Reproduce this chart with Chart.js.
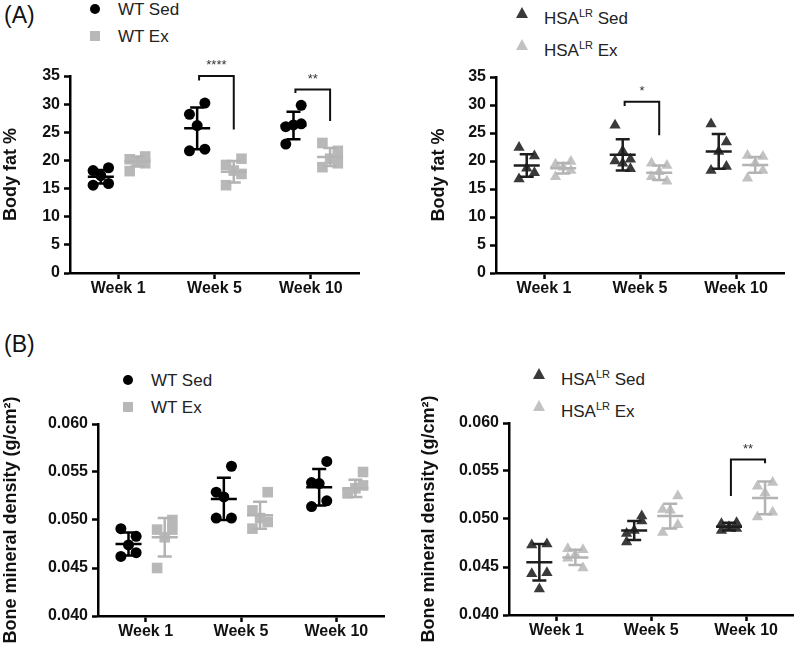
<!DOCTYPE html>
<html>
<head>
<meta charset="utf-8">
<script src="https://cdn.jsdelivr.net/npm/chart.js@4.4.1/dist/chart.umd.min.js"></script>
<style>
  body { margin: 0; background: #fff; font-family: 'Liberation Sans', Arial, sans-serif; }
  #wrap { position: relative; width: 800px; height: 650px; overflow: hidden; }
  canvas { position: absolute; }
  .tag { position: absolute; font-size: 23px; color: #111; }
  .leg { position: absolute; font-size: 17px; color: #222; line-height: 27px; }
  .leg div { position: relative; padding-left: 28px; white-space: nowrap; }
  .leg sup { font-size: 11px; }
  .mk { position: absolute; left: 0; top: 8px; width: 10px; height: 10px; }
  .circ { border-radius: 50%; background: #000; }
  .sq { background: #b8b8b8; }
  .tri { width: 0; height: 0; top: 7px; border-left: 6px solid transparent; border-right: 6px solid transparent; border-bottom: 11px solid #3a3a3a; }
  .tri.lt { border-bottom-color: #c2c2c2; }
</style>
</head>
<body>
<div id="wrap">
  <div class="tag" style="left:4px;top:2px;">(A)</div>
  <div class="tag" style="left:4px;top:331px;">(B)</div>

  <div class="leg" style="left:90px;top:-4px;">
    <div><span class="mk circ"></span>WT Sed</div>
    <div><span class="mk sq"></span>WT Ex</div>
  </div>
  <div class="leg" style="left:516px;top:0px;">
    <div><span class="mk tri"></span>HSA<sup>LR</sup> Sed</div>
    <div><span class="mk tri lt"></span>HSA<sup>LR</sup> Ex</div>
  </div>
  <div class="leg" style="left:123px;top:367px;">
    <div><span class="mk circ"></span>WT Sed</div>
    <div><span class="mk sq"></span>WT Ex</div>
  </div>
  <div class="leg" style="left:533px;top:361px;">
    <div><span class="mk tri"></span>HSA<sup>LR</sup> Sed</div>
    <div><span class="mk tri lt"></span>HSA<sup>LR</sup> Ex</div>
  </div>

  <canvas id="cA1" width="370" height="250" style="left:0;top:60px;"></canvas>
  <canvas id="cA2" width="400" height="250" style="left:400px;top:60px;"></canvas>
  <canvas id="cB1" width="400" height="275" style="left:0;top:375px;"></canvas>
  <canvas id="cB2" width="400" height="275" style="left:400px;top:375px;"></canvas>
</div>

<script>
// 共通
const WEEKS = ['Week 1', 'Week 5', 'Week 10'];

// (A) 体脂肪率 WT
const wtSedFat = [[17.3, 18.2, 18.7, 15.6, 15.9], [26.2, 28.2, 30.2, 21.7, 22.0], [26.3, 26.0, 29.8, 22.9, 26.5]];
const wtExFat  = [[19.8, 20.2, 20.7, 18.1, 19.5], [18.2, 19.2, 20.3, 15.6, 17.6], [20.3, 23.1, 21.7, 18.8, 19.5]];
const wtSedFatMean = [17.1, 25.7, 26.2];
const wtSedFatSd   = [1.2, 3.7, 2.45];
const wtExFatMean  = [19.8, 18.0, 20.6];
const wtExFatSd    = [0.9, 1.9, 1.6];

// (A) 体脂肪率 HSA-LR
const hsaSedFat = [[18.7, 22.4, 20.9, 16.8, 17.9], [21.8, 20.0, 20.3, 26.4, 18.6, 19.6], [21.7, 18.3, 23.4, 26.6, 19.0]];
const hsaExFat  = [[18.9, 19.4, 19.9, 17.2, 18.3], [18.1, 19.6, 19.2, 17.2, 16.4], [19.6, 21.0, 20.8, 16.9, 18.3]];
const hsaSedFatMean = [19.2, 21.1, 21.7];
const hsaSedFatSd   = [2.0, 2.8, 3.1];
const hsaExFatMean  = [18.7, 17.9, 19.3];
const hsaExFatSd    = [0.95, 1.3, 1.4];

// (B) 骨密度 WT
const wtSedBmd = [[0.0474, 0.0491, 0.0483, 0.0462, 0.0466], [0.0524, 0.0529, 0.0556, 0.0502, 0.0502], [0.0538, 0.0539, 0.0561, 0.0514, 0.0520]];
const wtExBmd  = [[0.0482, 0.0490, 0.0490, 0.0450, 0.0500], [0.0502, 0.0510, 0.0529, 0.0491, 0.0498], [0.0533, 0.0528, 0.0550, 0.0528, 0.0536]];
const wtSedBmdMean = [0.0475, 0.0522, 0.0534];
const wtSedBmdSd   = [0.0012, 0.0022, 0.0019];
const wtExBmdMean  = [0.0482, 0.0505, 0.0533];
const wtExBmdSd    = [0.0020, 0.0014, 0.0009];

// (B) 骨密度 HSA-LR
const hsaSedBmd = [[0.0427, 0.0473, 0.0474, 0.0443, 0.0444], [0.0488, 0.0485, 0.0503, 0.0476, 0.0498], [0.0492, 0.0495, 0.0496, 0.0488, 0.0490]];
const hsaExBmd  = [[0.0463, 0.0469, 0.0468, 0.0459, 0.0449], [0.0509, 0.0510, 0.0524, 0.0486, 0.0494], [0.0527, 0.0534, 0.0538, 0.0502, 0.0507]];
const hsaSedBmdMean = [0.0455, 0.0488, 0.0492];
const hsaSedBmdSd   = [0.0019, 0.0010, 0.0004];
const hsaExBmdMean  = [0.0460, 0.0503, 0.0522];
const hsaExBmdSd    = [0.0008, 0.0013, 0.0017];

// 有意差ブラケット [週, 上端, 左端, 右端, 記号]
const fatWtSig  = [[2, 35, 34.2, 25.5, '****'], [3, 32.6, 32.0, 27.0, '**']];
const fatHsaSig = [[2, 30.6, 29.8, 24.6, '*']];
const bmdHsaSig = [[3, 0.0562, 0.0524, 0.0558, '**']];

const SED_DX = -0.18, EX_DX = 0.2;
const JIT = [0, -0.08, 0.08, -0.08, 0.08, 0];
const FONT = "'Liberation Sans', Arial, sans-serif";

function toPoints(groups, dx) {
  const pts = [];
  groups.forEach((vals, i) => {
    vals.forEach((v, j) => pts.push({ x: i + 1 + dx + JIT[j % JIT.length], y: v }));
  });
  return pts;
}

// 平均±SD
const meanSdPlugin = {
  id: 'meanSd',
  afterDatasetsDraw(chart, args, opts) {
    const { ctx, scales: { x, y } } = chart;
    ctx.save();
    ctx.lineWidth = 2.5;
    opts.groups.forEach(g => {
      ctx.strokeStyle = g.color;
      g.mean.forEach((m, i) => {
        const px = x.getPixelForValue(i + 1 + g.dx);
        const pm = y.getPixelForValue(m);
        const pt = y.getPixelForValue(m + g.sd[i]);
        const pb = y.getPixelForValue(m - g.sd[i]);
        ctx.beginPath();
        ctx.moveTo(px - 13, pm); ctx.lineTo(px + 13, pm);
        ctx.moveTo(px, pt); ctx.lineTo(px, pb);
        ctx.moveTo(px - 7, pt); ctx.lineTo(px + 7, pt);
        ctx.moveTo(px - 7, pb); ctx.lineTo(px + 7, pb);
        ctx.stroke();
      });
    });
    ctx.restore();
  }
};

// ブラケット
const bracketPlugin = {
  id: 'brackets',
  afterDatasetsDraw(chart, args, opts) {
    const { ctx, scales: { x, y } } = chart;
    ctx.save();
    ctx.strokeStyle = '#111';
    ctx.lineWidth = 2;
    ctx.fillStyle = '#333';
    ctx.font = '13px ' + FONT;
    ctx.textAlign = 'center';
    ctx.textBaseline = 'bottom';
    (opts.items || []).forEach(([wk, top, lEnd, rEnd, mark]) => {
      const x1 = x.getPixelForValue(wk + SED_DX + 0.02);
      const x2 = x.getPixelForValue(wk + EX_DX);
      const yt = y.getPixelForValue(top);
      ctx.beginPath();
      ctx.moveTo(x1, y.getPixelForValue(lEnd));
      ctx.lineTo(x1, yt);
      ctx.lineTo(x2, yt);
      ctx.lineTo(x2, y.getPixelForValue(rEnd));
      ctx.stroke();
      ctx.fillText(mark, (x1 + x2) / 2, yt - 4);
    });
    ctx.restore();
  }
};

function makePanel(id, p) {
  return new Chart(document.getElementById(id), {
    type: 'scatter',
    data: {
      datasets: [
        {
          data: toPoints(p.sed, SED_DX),
          pointStyle: p.sedStyle,
          pointRadius: p.sedR,
          backgroundColor: p.sedColor,
          borderColor: p.sedColor,
          borderWidth: 0
        },
        {
          data: toPoints(p.ex, EX_DX),
          pointStyle: p.exStyle,
          pointRadius: p.exR,
          backgroundColor: p.exColor,
          borderColor: p.exColor,
          borderWidth: 0
        }
      ]
    },
    options: {
      responsive: false,
      animation: false,
      events: [],
      layout: { padding: p.pad },
      plugins: {
        legend: { display: false },
        tooltip: { enabled: false },
        meanSd: {
          groups: [
            { mean: p.sedMean, sd: p.sedSd, dx: SED_DX, color: p.sedLine },
            { mean: p.exMean, sd: p.exSd, dx: EX_DX, color: p.exLine }
          ]
        },
        brackets: { items: p.sig }
      },
      scales: {
        x: {
          type: 'linear',
          min: 0.5,
          max: 3.5,
          afterBuildTicks: s => { s.ticks = [1, 2, 3].map(v => ({ value: v })); },
          afterFit: s => { s.height = p.xH; },
          ticks: {
            callback: v => WEEKS[v - 1],
            color: '#111',
            font: { family: FONT, size: 16, weight: 'bold' },
            padding: 0,
            maxRotation: 0
          },
          grid: { drawOnChartArea: false, tickLength: 6, tickWidth: 2.5, tickColor: '#000' },
          border: { color: '#000', width: 2.5 }
        },
        y: {
          min: p.yMin,
          max: p.yMax,
          afterBuildTicks: s => { s.ticks = p.yTicks.map(v => ({ value: v })); },
          afterFit: s => { s.width = p.yW; },
          ticks: {
            callback: p.yFmt,
            color: '#111',
            font: { family: FONT, size: 16, weight: 'bold' },
            padding: 4
          },
          title: {
            display: true,
            text: p.yTitle,
            color: '#111',
            font: { family: FONT, size: 18, weight: 'bold' },
            padding: { top: 0, bottom: 2 }
          },
          grid: { drawOnChartArea: false, tickLength: 6, tickWidth: 2.5, tickColor: '#000' },
          border: { color: '#000', width: 2.5 }
        }
      }
    },
    plugins: [meanSdPlugin, bracketPlugin]
  });
}

const fatTicks = [0, 5, 10, 15, 20, 25, 30, 35];
const bmdTicks = [0.040, 0.045, 0.050, 0.055, 0.060];
const fatFmt = v => v;
const bmdFmt = v => v.toFixed(3);

const wtStyle = {
  sedStyle: 'circle', sedR: 5.5, sedColor: '#000', sedLine: '#000',
  exStyle: 'rect', exR: 7.5, exColor: '#b8b8b8', exLine: '#b3b3b3'
};
const hsaStyle = {
  sedStyle: 'triangle', sedR: 6.5, sedColor: '#3a3a3a', sedLine: '#1e1e1e',
  exStyle: 'triangle', exR: 6.5, exColor: '#c2c2c2', exLine: '#b3b3b3'
};

makePanel('cA1', Object.assign({}, wtStyle, {
  sed: wtSedFat, ex: wtExFat,
  sedMean: wtSedFatMean, sedSd: wtSedFatSd, exMean: wtExFatMean, exSd: wtExFatSd,
  sig: fatWtSig,
  yMin: 0, yMax: 35, yTicks: fatTicks, yFmt: fatFmt, yTitle: 'Body fat %',
  pad: { top: 16, right: 11, bottom: 0, left: 0 }, yW: 70, xH: 37
}));

makePanel('cA2', Object.assign({}, hsaStyle, {
  sed: hsaSedFat, ex: hsaExFat,
  sedMean: hsaSedFatMean, sedSd: hsaSedFatSd, exMean: hsaExFatMean, exSd: hsaExFatSd,
  sig: fatHsaSig,
  yMin: 0, yMax: 35, yTicks: fatTicks, yFmt: fatFmt, yTitle: 'Body fat %',
  pad: { top: 17, right: 16, bottom: 0, left: 28 }, yW: 68, xH: 37
}));

makePanel('cB1', Object.assign({}, wtStyle, {
  sed: wtSedBmd, ex: wtExBmd,
  sedMean: wtSedBmdMean, sedSd: wtSedBmdSd, exMean: wtExBmdMean, exSd: wtExBmdSd,
  sig: [],
  yMin: 0.040, yMax: 0.060, yTicks: bmdTicks, yFmt: bmdFmt, yTitle: 'Bone mineral density (g/cm²)',
  pad: { top: 49, right: 16, bottom: 0, left: 0 }, yW: 98, xH: 34
}));

makePanel('cB2', Object.assign({}, hsaStyle, {
  sed: hsaSedBmd, ex: hsaExBmd,
  sedMean: hsaSedBmdMean, sedSd: hsaSedBmdSd, exMean: hsaExBmdMean, exSd: hsaExBmdSd,
  sig: bmdHsaSig,
  yMin: 0.040, yMax: 0.060, yTicks: bmdTicks, yFmt: bmdFmt, yTitle: 'Bone mineral density (g/cm²)',
  pad: { top: 48, right: 3, bottom: 0, left: 18 }, yW: 91, xH: 35
}));
</script>
</body>
</html>
